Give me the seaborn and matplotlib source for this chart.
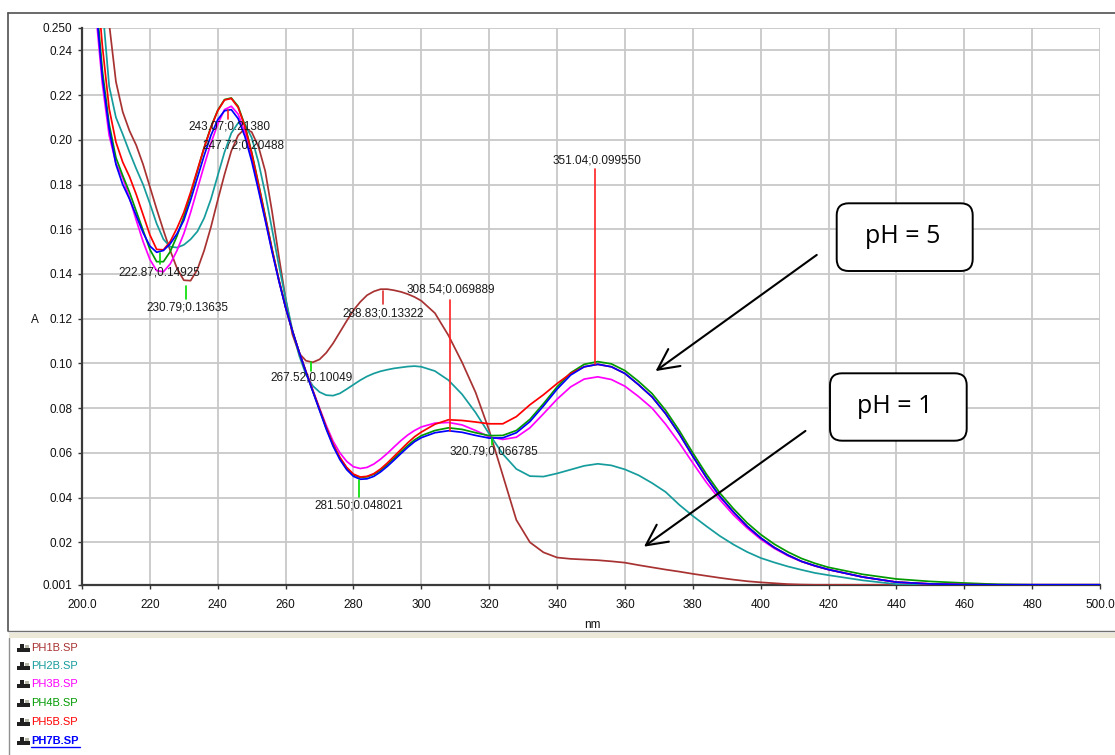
import matplotlib
matplotlib.use("Agg")
import matplotlib.pyplot as plt
import seaborn as sns
import pandas as pd
from matplotlib.patches import FancyBboxPatch, FancyArrowPatch, Rectangle
from matplotlib.lines import Line2D
from matplotlib.transforms import ScaledTranslation

# ---------------- data ----------------
WAVELENGTH = [200, 202, 204, 206, 208, 210, 212, 214, 216, 218, 220, 222, 224, 226, 228, 230, 232, 234, 236, 238, 240,
              242, 244, 246, 248, 250, 252, 254, 256, 258, 260, 262, 264, 266, 268, 270, 272, 274, 276, 278, 280,
              282, 284, 286, 288, 290, 292, 294, 296, 298, 300,
              304, 308, 312, 316, 320, 324, 328, 332, 336, 340, 344, 348, 352, 356, 360, 364, 368, 372, 376, 380,
              384, 388, 392, 396, 400, 404, 408, 412, 416, 420,
              430, 440, 450, 460, 470, 480, 490, 500]

PH1B = [0.400, 0.355, 0.312, 0.280, 0.252, 0.226, 0.2125, 0.2040, 0.1975, 0.1890, 0.1790, 0.1690, 0.1595, 0.1505, 0.1425, 0.1372, 0.1370, 0.1420, 0.1505, 0.1610, 0.1730,
        0.1845, 0.1950, 0.2020, 0.2050, 0.2035, 0.1970, 0.1860, 0.1680, 0.1480, 0.1290, 0.1130, 0.1045, 0.1012, 0.1005, 0.1018, 0.1048, 0.1090, 0.1140, 0.1190, 0.1238,
        0.1275, 0.1305, 0.1322, 0.1332, 0.1332, 0.1327, 0.1320, 0.1310, 0.1297, 0.1280,
        0.1225, 0.1125, 0.1005, 0.0870, 0.0700, 0.0500, 0.0300, 0.0200, 0.0155, 0.0132, 0.0126, 0.0123, 0.0120, 0.0115, 0.0109, 0.0098, 0.0088, 0.0078, 0.0069, 0.0059,
        0.0050, 0.0041, 0.0033, 0.0026, 0.0021, 0.0017, 0.0013, 0.0011, 0.0010, 0.0010,
        0.0010, 0.0010, 0.0010, 0.0010, 0.0010, 0.0010, 0.0010, 0.0010]

PH2B = [0.370, 0.335, 0.296, 0.260, 0.224, 0.210, 0.2025, 0.1945, 0.1870, 0.1800, 0.1715, 0.1625, 0.1555, 0.1522, 0.1518, 0.1530, 0.1555, 0.1590, 0.1650, 0.1735, 0.1840,
        0.1945, 0.2030, 0.2075, 0.2070, 0.2010, 0.1900, 0.1760, 0.1600, 0.1440, 0.1290, 0.1150, 0.1035, 0.0950, 0.0900, 0.0872, 0.0858, 0.0856, 0.0866, 0.0885, 0.0905,
        0.0925, 0.0942, 0.0955, 0.0965, 0.0972, 0.0978, 0.0982, 0.0986, 0.0988, 0.0985,
        0.0966, 0.0925, 0.0862, 0.0780, 0.0685, 0.0595, 0.0528, 0.0496, 0.0494, 0.0508, 0.0525, 0.0542, 0.0551, 0.0544, 0.0526, 0.0500, 0.0465, 0.0425, 0.0368, 0.0318,
        0.0272, 0.0228, 0.0190, 0.0157, 0.0130, 0.0110, 0.0092, 0.0077, 0.0063, 0.0053,
        0.0030, 0.0013, 0.0010, 0.0010, 0.0010, 0.0010, 0.0010, 0.0010]

PH3B = [0.335, 0.296, 0.258, 0.225, 0.202, 0.1895, 0.1830, 0.1740, 0.1640, 0.1545, 0.1465, 0.1415, 0.1410, 0.1445, 0.1505, 0.1580, 0.1675, 0.1780, 0.1885, 0.1985, 0.2070,
        0.2135, 0.2150, 0.2115, 0.2035, 0.1920, 0.1785, 0.1645, 0.1505, 0.1372, 0.1250, 0.1145, 0.1052, 0.0965, 0.0882, 0.0800, 0.0722, 0.0652, 0.0600, 0.0562, 0.0538,
        0.0530, 0.0535, 0.0550, 0.0572, 0.0598, 0.0627, 0.0655, 0.0680, 0.0700, 0.0716,
        0.0733, 0.0736, 0.0725, 0.0700, 0.0672, 0.0660, 0.0670, 0.0712, 0.0775, 0.0840, 0.0895, 0.0930, 0.0940, 0.0928, 0.0898, 0.0852, 0.0800, 0.0728, 0.0645, 0.0555,
        0.0468, 0.0390, 0.0322, 0.0264, 0.0214, 0.0173, 0.0140, 0.0114, 0.0094, 0.0078,
        0.0045, 0.0022, 0.0014, 0.0011, 0.0010, 0.0010, 0.0010, 0.0010]

PH4B = [0.345, 0.305, 0.266, 0.231, 0.207, 0.192, 0.184, 0.1765, 0.1680, 0.1595, 0.1510, 0.1455, 0.1455, 0.1500, 0.1570, 0.1655, 0.1755, 0.1860, 0.1965, 0.2058, 0.2132,
        0.2180, 0.2187, 0.2150, 0.2065, 0.1945, 0.1805, 0.1660, 0.1512, 0.1375, 0.1252, 0.1145, 0.1050, 0.0962, 0.0878, 0.0795, 0.0712, 0.0637, 0.0577, 0.0532, 0.0502,
        0.0490, 0.0493, 0.0504, 0.0523, 0.0548, 0.0576, 0.0605, 0.0633, 0.0658, 0.0677,
        0.0700, 0.0712, 0.0705, 0.0690, 0.0677, 0.0678, 0.0700, 0.0750, 0.0820, 0.0895, 0.0958, 0.0996, 0.1008, 0.0998, 0.0968, 0.0920, 0.0865, 0.0790, 0.0700, 0.0600,
        0.0505, 0.0420, 0.0350, 0.0287, 0.0235, 0.0192, 0.0157, 0.0128, 0.0106, 0.0088,
        0.0057, 0.0036, 0.0025, 0.0018, 0.0012, 0.0010, 0.0010, 0.0010]

PH5B = [0.360, 0.318, 0.278, 0.242, 0.214, 0.199, 0.190, 0.1835, 0.1755, 0.1665, 0.1575, 0.1510, 0.1508, 0.1545, 0.1605, 0.1675, 0.1765, 0.1865, 0.1965, 0.2055, 0.2130,
        0.2178, 0.2185, 0.2145, 0.2060, 0.1940, 0.1800, 0.1655, 0.1510, 0.1375, 0.1252, 0.1145, 0.1050, 0.0962, 0.0878, 0.0795, 0.0712, 0.0638, 0.0580, 0.0535, 0.0505,
        0.0492, 0.0495, 0.0507, 0.0528, 0.0555, 0.0585, 0.0615, 0.0645, 0.0672, 0.0693,
        0.0728, 0.0748, 0.0745, 0.0738, 0.0730, 0.0730, 0.0762, 0.0815, 0.0860, 0.0910, 0.0955, 0.0985, 0.0996, 0.0985, 0.0955, 0.0905, 0.0850, 0.0775, 0.0685, 0.0585,
        0.0490, 0.0405, 0.0335, 0.0272, 0.0220, 0.0177, 0.0143, 0.0115, 0.0095, 0.0078,
        0.0045, 0.0022, 0.0014, 0.0011, 0.0010, 0.0010, 0.0010, 0.0010]

PH7B = [0.340, 0.300, 0.262, 0.228, 0.205, 0.189, 0.180, 0.1735, 0.1660, 0.1585, 0.1525, 0.1497, 0.1505, 0.1535, 0.1580, 0.1640, 0.1730, 0.1830, 0.1930, 0.2020, 0.2090,
        0.2130, 0.2135, 0.2095, 0.2015, 0.1905, 0.1775, 0.1640, 0.1500, 0.1370, 0.1250, 0.1145, 0.1050, 0.0960, 0.0875, 0.0790, 0.0705, 0.0630, 0.0570, 0.0525, 0.0495,
        0.0482, 0.0484, 0.0495, 0.0515, 0.0540, 0.0568, 0.0597, 0.0625, 0.0650, 0.0668,
        0.0690, 0.0699, 0.0692, 0.0678, 0.0666, 0.0667, 0.0690, 0.0740, 0.0810, 0.0885, 0.0948, 0.0985, 0.0996, 0.0985, 0.0955, 0.0905, 0.0850, 0.0775, 0.0685, 0.0585,
        0.0490, 0.0405, 0.0335, 0.0272, 0.0220, 0.0177, 0.0143, 0.0115, 0.0095, 0.0078,
        0.0045, 0.0022, 0.0014, 0.0011, 0.0010, 0.0010, 0.0010, 0.0010]

SERIES = ["PH1B.SP", "PH2B.SP", "PH3B.SP", "PH4B.SP", "PH5B.SP", "PH7B.SP"]
COLORS = ["#A83232", "#169C9C", "#FF00FF", "#009A00", "#FF0000", "#0000FF"]

X_TICKS = [200, 220, 240, 260, 280, 300, 320, 340, 360, 380, 400, 420, 440, 460, 480, 500]
X_TICKLABELS = ["200.0", "220", "240", "260", "280", "300", "320", "340", "360", "380", "400",
                "420", "440", "460", "480", "500.0"]
Y_TICKS = [0.001, 0.02, 0.04, 0.06, 0.08, 0.10, 0.12, 0.14, 0.16, 0.18, 0.20, 0.22, 0.24, 0.250]
Y_TICKLABELS = ["0.001", "0.02", "0.04", "0.06", "0.08", "0.10", "0.12", "0.14", "0.16", "0.18",
                "0.20", "0.22", "0.24", "0.250"]

# peak-pick labels
PEAK_LABELS = ["243.07;0.21380", "247.72;0.20488", "222.87;0.14925", "230.79;0.13635",
               "267.52;0.10049", "288.83;0.13322", "308.54;0.069889", "320.79;0.066785",
               "281.50;0.048021", "351.04;0.099550"]

# ---------------- style ----------------
sns.set_theme(style="whitegrid")
plt.rcParams["font.family"] = ["Liberation Sans", "DejaVu Sans"]

DPI = 100
fig = plt.figure(figsize=(11.15, 7.55), dpi=DPI, facecolor="white")
ax = fig.add_axes([82 / 1115, 1 - 584.8 / 755, (1100 - 82) / 1115, (584.8 - 28) / 755])
ax.set_facecolor("white")

vals = [PH1B, PH2B, PH3B, PH4B, PH5B, PH7B]
rows = []
for name, v in zip(SERIES, vals):
    for w, a in zip(WAVELENGTH, v):
        rows.append((name, w, a))
df = pd.DataFrame(rows, columns=["series", "nm", "A"])

sns.lineplot(data=df, x="nm", y="A", hue="series", hue_order=SERIES,
             palette=dict(zip(SERIES, COLORS)), estimator=None, sort=False,
             linewidth=1.25, legend=False, ax=ax, zorder=3)

ax.set_xlim(200, 500)
ax.set_ylim(0.001, 0.250)
ax.set_xticks(X_TICKS)
ax.set_xticklabels(X_TICKLABELS)
ax.set_yticks(Y_TICKS)
ax.set_yticklabels(Y_TICKLABELS)
ax.grid(True, color="#c8c8c8", linewidth=1.3)
ax.set_axisbelow(True)
ax.tick_params(axis="both", which="major", labelsize=8.5, length=3, width=1,
               color="#333333", labelcolor="#111111", direction="out",
               bottom=True, left=True)
ax.tick_params(axis="x", pad=7)
ax.tick_params(axis="y", pad=4)
for s in ["top", "right"]:
    ax.spines[s].set_visible(False)
for s in ["left", "bottom"]:
    ax.spines[s].set_visible(True)
    ax.spines[s].set_color("#3a3a3a")
    ax.spines[s].set_linewidth(1.6)
ax.set_xlabel("")
ax.set_ylabel("")

fig.text(35 / 1115, 1 - 320 / 755, "A", fontsize=8.5, ha="center", va="center", color="#111111")
fig.text(592 / 1115, 1 - 625 / 755, "nm", fontsize=8.5, ha="center", va="center", color="#111111")

# peak labels
TICK_COLORS = ["#FF2020", None, "#00DD00", "#00DD00", "#00DD00", "#E03030", "#FF2020",
               "#00DD00", "#00DD00", "#FF2020"]
TICK_SPANS = [(-1.5, -10), None, (0, -11), (-4, -17), (0, -9), (-2, -15), (0, 131),
              (0, -7), (0, -17), (0, 195)]
TEXT_OFFS = [(1, -18), (0, -16.6), (0, -19), (0.6, -25.4), (0, -15.4), (0, -24.4),
             (0, 141), (2, -13.6), (0, -26), (2, 204)]
for lab, tc, span, off in zip(PEAK_LABELS, TICK_COLORS, TICK_SPANS, TEXT_OFFS):
    px, py = [float(t) for t in lab.split(";")]
    if tc is not None:
        tr = fig.dpi_scale_trans + ScaledTranslation(px, py, ax.transData)
        ax.add_line(Line2D([0, 0], [span[0] / DPI, span[1] / DPI], transform=tr,
                           color=tc, linewidth=1.2, zorder=4))
    ax.annotate(lab, xy=(px, py), xytext=off, textcoords="offset pixels",
                ha="center", va="center", fontsize=8.5, color="#1a1a1a", zorder=5)

# pH call-out boxes and arrows (figure inch coordinates)
inch = fig.dpi_scale_trans
for (x0, y0, w, h), (tx, ty), txt in [((8.367, 4.84, 1.36, 0.677), (9.027, 5.183), "pH = 5"),
                                      ((8.30, 3.143, 1.367, 0.674), (8.95, 3.483), "pH = 1")]:
    fig.add_artist(FancyBboxPatch((x0, y0), w, h, boxstyle="round,pad=0,rounding_size=0.12",
                                  transform=inch, facecolor="white", edgecolor="black",
                                  linewidth=1.4, zorder=10))
    fig.text(tx, ty, txt, transform=inch, fontsize=18, family=["Open Sans", "DejaVu Sans"],
             ha="center", va="center", color="black", zorder=11)
for (x1, y1), (x2, y2) in [((8.19, 5.017), (6.533, 3.823)), ((8.077, 3.257), (6.417, 2.067))]:
    fig.add_artist(FancyArrowPatch((x1, y1), (x2, y2), transform=inch,
                                   arrowstyle="->,head_length=0.6,head_width=0.3",
                                   mutation_scale=25, color="black", linewidth=1.5, zorder=10))

# window frame
fr = fig.transFigure
def fx(p):
    return p / 1115
def fy(p):
    return 1 - p / 755
fig.add_artist(Line2D([fx(8), fx(1115)], [fy(13), fy(13)], transform=fr, color="#505050", lw=1.2))
fig.add_artist(Line2D([fx(8), fx(8)], [fy(13), fy(631)], transform=fr, color="#505050", lw=1.2))
fig.add_artist(Line2D([fx(8), fx(1115)], [fy(631), fy(631)], transform=fr, color="#707070", lw=1.0))
fig.add_artist(Rectangle((fx(9), fy(638)), fx(1115) - fx(9), fy(633) - fy(638), transform=fr,
                         facecolor="#ECE9D8", edgecolor="none"))
fig.add_artist(Line2D([fx(9), fx(9)], [fy(638), fy(755)], transform=fr, color="#909090", lw=1.0))

# legend list
LEG_Y = [648.3, 666, 684.3, 702.7, 721.7, 741]
for name, col, yy in zip(SERIES, COLORS, LEG_Y):
    fig.add_artist(Rectangle((fx(17), fy(yy + 4)), fx(13), fy(yy) - fy(yy + 4), transform=fr,
                             facecolor="#202020", edgecolor="none"))
    fig.add_artist(Rectangle((fx(20), fy(yy)), fx(4), fy(yy - 4) - fy(yy), transform=fr,
                             facecolor="#202020", edgecolor="none"))
    fig.add_artist(Rectangle((fx(25), fy(yy)), fx(4), fy(yy - 3) - fy(yy), transform=fr,
                             facecolor="#b8b8a8", edgecolor="none"))
    bold = name == "PH7B.SP"
    fig.text(fx(31), fy(yy), name, transform=fr, fontsize=8, color=col, ha="left", va="center",
             fontweight="bold" if bold else "normal")
    if bold:
        fig.add_artist(Line2D([fx(31), fx(80)], [fy(yy + 6), fy(yy + 6)], transform=fr,
                              color=col, lw=1.0))

fig.savefig("out.png", dpi=DPI, facecolor="white")
